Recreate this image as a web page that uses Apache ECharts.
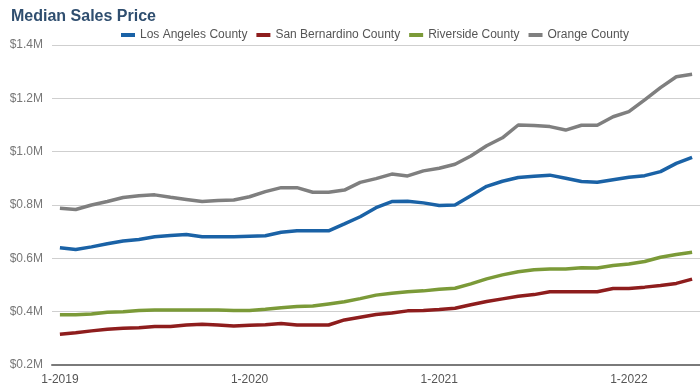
<!DOCTYPE html>
<html><head><meta charset="utf-8">
<script src="https://cdn.jsdelivr.net/npm/echarts@6/dist/echarts.min.js"></script>
<style>html,body{margin:0;padding:0;background:#fff}#c{width:700px;height:389px}</style>
</head><body><div id="c"></div>
<script>
var months = [];
for (var y = 2019; y <= 2022; y++) for (var m = 1; m <= 12; m++) months.push(m + '-' + y);
var categories = months.slice(0, 41);
var tickLabels = ['1-2019', '1-2020', '1-2021', '1-2022'];

var losAngeles = [0.640,0.633,0.643,0.655,0.665,0.671,0.681,0.686,0.689,0.681,0.681,
  0.681,0.683,0.685,0.698,0.703,0.703,0.703,0.729,0.756,0.790,
  0.813,0.814,0.808,0.798,0.800,0.835,0.870,0.889,0.903,0.908,
  0.912,0.900,0.888,0.885,0.895,0.904,0.910,0.925,0.956,0.979];
var sanBernardino = [0.315,0.321,0.328,0.334,0.338,0.340,0.344,0.344,0.350,0.353,0.350,
  0.346,0.349,0.351,0.356,0.350,0.350,0.350,0.369,0.379,0.389,
  0.395,0.403,0.404,0.408,0.413,0.426,0.438,0.448,0.458,0.464,
  0.475,0.475,0.475,0.475,0.487,0.487,0.492,0.498,0.506,0.522];
var riverside = [0.388,0.388,0.391,0.398,0.400,0.404,0.406,0.406,0.406,0.406,0.406,
  0.404,0.404,0.409,0.415,0.419,0.421,0.429,0.437,0.449,0.462,
  0.469,0.475,0.478,0.484,0.488,0.504,0.523,0.538,0.550,0.557,
  0.560,0.560,0.565,0.564,0.573,0.579,0.588,0.604,0.614,0.623];
var orange = [0.788,0.783,0.800,0.813,0.828,0.835,0.838,0.829,0.821,0.813,0.817,
  0.819,0.831,0.850,0.865,0.865,0.848,0.848,0.856,0.885,0.899,
  0.916,0.909,0.928,0.938,0.953,0.984,1.022,1.052,1.100,1.098,
  1.094,1.081,1.099,1.099,1.131,1.150,1.194,1.240,1.281,1.290];

var seriesNames = ['Los Angeles County', 'San Bernardino County', 'Riverside County', 'Orange County'];
var seriesData = [losAngeles, sanBernardino, riverside, orange];
var colors = ['#1a62a6', '#8e1d1d', '#7b9a38', '#7f7f7f'];

var chart = echarts.init(document.getElementById('c'), null, {renderer: 'canvas'});
function showTick(i, v) { return tickLabels.indexOf(v) >= 0; }
chart.setOption({
  animation: false,
  color: colors,
  title: {
    text: 'Median Sales Price', left: 6, top: 4,
    textStyle: {fontFamily: 'Liberation Sans, Arial', fontSize: 16, fontWeight: 'bold', color: '#2f4e6f'}
  },
  legend: {
    data: seriesNames, left: 116, top: 24, itemWidth: 14, itemHeight: 4, itemGap: 9,
    icon: 'rect',
    textStyle: {fontFamily: 'Liberation Sans, Arial', fontSize: 12, color: '#555'}
  },
  grid: {left: 52, right: 0, top: 45, bottom: 24, containLabel: false},
  xAxis: {
    type: 'category', data: categories, boundaryGap: true,
    axisLine: {lineStyle: {color: '#7a7a7a', width: 2}},
    axisTick: {alignWithLabel: true, interval: showTick, length: 4, lineStyle: {color: '#7a7a7a', width: 2}},
    axisLabel: {interval: showTick, fontFamily: 'Liberation Sans, Arial', fontSize: 12, color: '#555', margin: 9}
  },
  yAxis: {
    type: 'value', min: 0.2, max: 1.4, interval: 0.2,
    axisLine: {show: false}, axisTick: {show: false},
    splitLine: {lineStyle: {color: '#cfcfcf', width: 1}},
    axisLabel: {
      fontFamily: 'Liberation Sans, Arial', fontSize: 12, color: '#777', margin: 9, padding: [6, 0, 0, 0],
      formatter: function (v) { return '$' + v.toFixed(1) + 'M'; }
    }
  },
  series: seriesNames.map(function (n, i) {
    return {name: n, type: 'line', data: seriesData[i], symbol: 'none', smooth: false,
      lineStyle: {width: 3.5, color: colors[i]}};
  })
});
</script></body></html>
